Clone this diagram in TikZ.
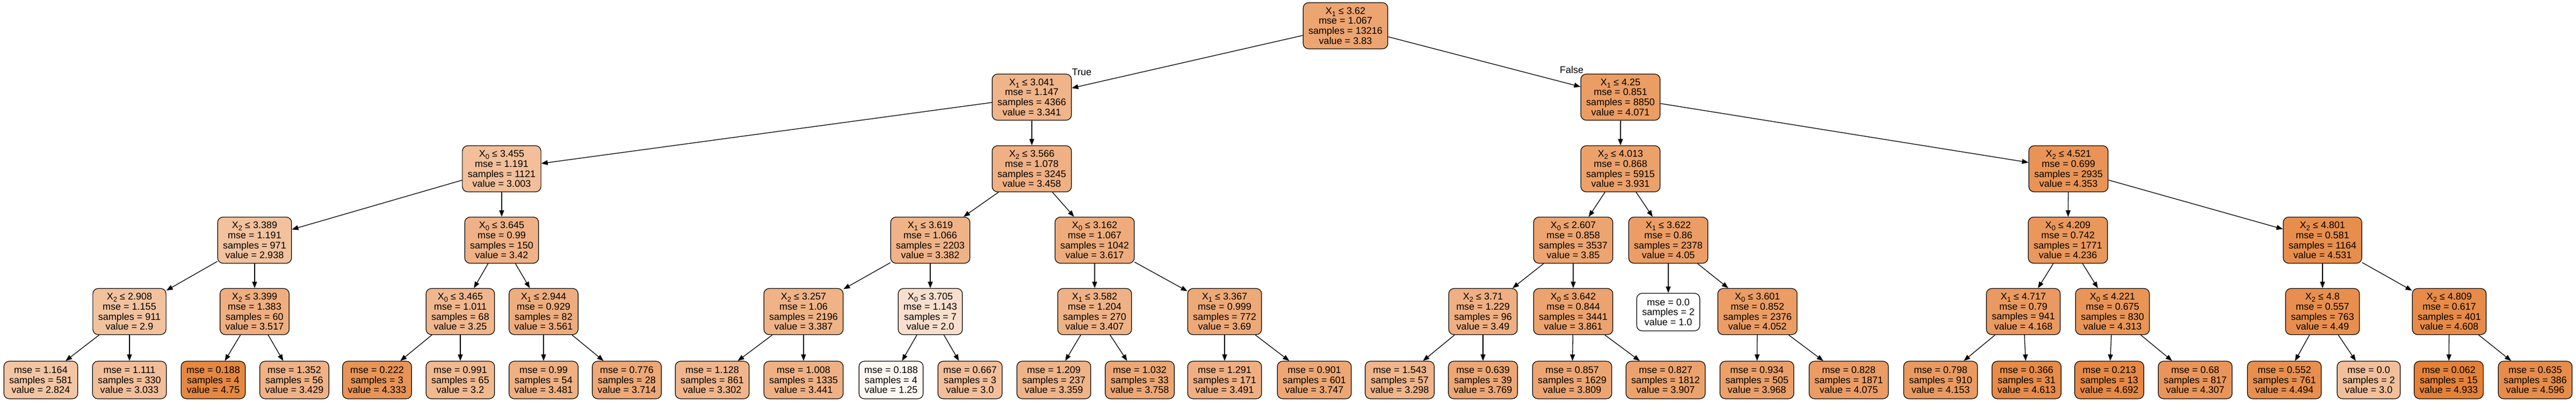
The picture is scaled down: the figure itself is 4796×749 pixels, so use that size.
\documentclass[tikz,border=0pt]{standalone}
\usepackage{fontspec}
\setmainfont{Liberation Sans}
\usetikzlibrary{arrows.meta}
\definecolor{dto}{RGB}{229,129,57}
\newcommand{\sbx}[1]{\raisebox{-4.3pt}{\fontsize{13}{13}\selectfont #1}}
\tikzset{
  dt/.style={draw=black, rounded corners=10pt, line width=1.2pt, align=center,
    inner xsep=10pt, inner ysep=2pt, minimum height=86pt,
    font=\fontsize{18}{18.7}\selectfont},
  dleaf/.style={dt, minimum height=70pt},
  edge/.style={-{Triangle[length=12pt,width=9pt]}, line width=1.3pt},
  elab/.style={font=\fontsize{18}{18.7}\selectfont, inner sep=0pt}
}
\newcommand{\dsplit}[8]{% name, x, y, pct, feature, thr, mse, samples, (value via \dval)
  \node[dt, fill=dto!#4!white] (#1) at (#2,#3) {X\sbx{#5} ≤ #6\\mse = #7\\samples = #8\\value = \dval};}
\begin{document}
\begin{tikzpicture}[x=1pt,y=-1pt]
\useasboundingbox (0,0) rectangle (4796,749);
% level 0
\def\dval{3.83}\dsplit{root}{2505}{48}{71.96}{1}{3.62}{1.067}{13216}
% level 1
\def\dval{3.341}\dsplit{n1}{1921}{181}{59.52}{1}{3.041}{1.147}{4366}
\def\dval{4.071}\dsplit{n2}{3017}{181}{78.08}{1}{4.25}{0.851}{8850}
% level 2
\def\dval{3.003}\dsplit{n11}{934}{314.5}{50.93}{0}{3.455}{1.191}{1121}
\def\dval{3.458}\dsplit{n12}{1921}{314.5}{62.50}{2}{3.566}{1.078}{3245}
\def\dval{3.931}\dsplit{n21}{3017}{314.5}{74.52}{2}{4.013}{0.868}{5915}
\def\dval{4.353}\dsplit{n22}{3851}{314.5}{85.25}{2}{4.521}{0.699}{2935}
% level 3
\def\dval{2.938}\dsplit{n111}{474}{447.5}{49.28}{2}{3.389}{1.191}{971}
\def\dval{3.42}\dsplit{n112}{934}{447.5}{61.53}{0}{3.645}{0.99}{150}
\def\dval{3.382}\dsplit{n121}{1732}{447.5}{60.56}{1}{3.619}{1.066}{2203}
\def\dval{3.617}\dsplit{n122}{2038}{447.5}{66.54}{0}{3.162}{1.067}{1042}
\def\dval{3.85}\dsplit{n211}{2929}{447.5}{72.46}{0}{2.607}{0.858}{3537}
\def\dval{4.05}\dsplit{n212}{3106}{447.5}{77.55}{1}{3.622}{0.86}{2378}
\def\dval{4.236}\dsplit{n221}{3850}{447.5}{82.28}{0}{4.209}{0.742}{1771}
\def\dval{4.531}\dsplit{n222}{4324}{447.5}{89.78}{2}{4.801}{0.581}{1164}
% level 4
\def\dval{2.9}\dsplit{a1}{241}{580.5}{48.31}{2}{2.908}{1.155}{911}
\def\dval{3.517}\dsplit{a2}{474}{580.5}{64.00}{2}{3.399}{1.383}{60}
\def\dval{3.25}\dsplit{a3}{857}{580.5}{57.21}{0}{3.465}{1.011}{68}
\def\dval{3.561}\dsplit{a4}{1012}{580.5}{65.12}{1}{2.944}{0.929}{82}
\def\dval{3.387}\dsplit{b1}{1496}{580.5}{60.69}{2}{3.257}{1.06}{2196}
\def\dval{2.0}\dsplit{b2}{1732}{580.5}{25.43}{0}{3.705}{1.143}{7}
\def\dval{3.407}\dsplit{b3}{2038}{580.5}{61.20}{1}{3.582}{1.204}{270}
\def\dval{3.69}\dsplit{b4}{2280}{580.5}{68.40}{1}{3.367}{0.999}{772}
\def\dval{3.49}\dsplit{c1}{2761}{580.5}{63.31}{2}{3.71}{1.229}{96}
\def\dval{3.861}\dsplit{c2}{2929}{580.5}{72.74}{0}{3.642}{0.844}{3441}
\node[dleaf, fill=white] (c3) at (3106,581.5) {mse = 0.0\\samples = 2\\value = 1.0};
\def\dval{4.052}\dsplit{c4}{3272}{580.5}{77.60}{0}{3.601}{0.852}{2376}
\def\dval{4.168}\dsplit{d1}{3767}{580.5}{80.55}{1}{4.717}{0.79}{941}
\def\dval{4.313}\dsplit{d2}{3933}{580.5}{84.24}{0}{4.221}{0.675}{830}
\def\dval{4.49}\dsplit{d3}{4324}{580.5}{88.74}{2}{4.8}{0.557}{763}
\def\dval{4.608}\dsplit{d4}{4560}{580.5}{91.74}{2}{4.809}{0.617}{401}
% leaves
\node[dleaf, fill=dto!46.38!white] (l1) at (76,708) {mse = 1.164\\samples = 581\\value = 2.824};
\node[dleaf, fill=dto!51.69!white] (l2) at (241,708) {mse = 1.111\\samples = 330\\value = 3.033};
\node[dleaf, fill=dto!95.35!white] (l3) at (397,708) {mse = 0.188\\samples = 4\\value = 4.75};
\node[dleaf, fill=dto!61.76!white] (l4) at (548,708) {mse = 1.352\\samples = 56\\value = 3.429};
\node[dleaf, fill=dto!84.74!white] (l5) at (702,708) {mse = 0.222\\samples = 3\\value = 4.333};
\node[dleaf, fill=dto!55.94!white] (l6) at (857,708) {mse = 0.991\\samples = 65\\value = 3.2};
\node[dleaf, fill=dto!63.08!white] (l7) at (1012,708) {mse = 0.99\\samples = 54\\value = 3.481};
\node[dleaf, fill=dto!69.01!white] (l8) at (1167,708) {mse = 0.776\\samples = 28\\value = 3.714};
\node[dleaf, fill=dto!58.53!white] (l9) at (1326,708) {mse = 1.128\\samples = 861\\value = 3.302};
\node[dleaf, fill=dto!62.06!white] (l10) at (1496,708) {mse = 1.008\\samples = 1335\\value = 3.441};
\node[dleaf, fill=dto!6.36!white] (l11) at (1659,708) {mse = 0.188\\samples = 4\\value = 1.25};
\node[dleaf, fill=dto!50.85!white] (l12) at (1806,708) {mse = 0.667\\samples = 3\\value = 3.0};
\node[dleaf, fill=dto!59.98!white] (l13) at (1962,708) {mse = 1.209\\samples = 237\\value = 3.359};
\node[dleaf, fill=dto!70.12!white] (l14) at (2122,708) {mse = 1.032\\samples = 33\\value = 3.758};
\node[dleaf, fill=dto!63.34!white] (l15) at (2280,708) {mse = 1.291\\samples = 171\\value = 3.491};
\node[dleaf, fill=dto!69.84!white] (l16) at (2447,708) {mse = 0.901\\samples = 601\\value = 3.747};
\node[dleaf, fill=dto!58.43!white] (l17) at (2606,708) {mse = 1.543\\samples = 57\\value = 3.298};
\node[dleaf, fill=dto!70.40!white] (l18) at (2761,708) {mse = 0.639\\samples = 39\\value = 3.769};
\node[dleaf, fill=dto!71.42!white] (l19) at (2927,708) {mse = 0.857\\samples = 1629\\value = 3.809};
\node[dleaf, fill=dto!73.91!white] (l20) at (3101,708) {mse = 0.827\\samples = 1812\\value = 3.907};
\node[dleaf, fill=dto!75.46!white] (l21) at (3271,708) {mse = 0.934\\samples = 505\\value = 3.968};
\node[dleaf, fill=dto!78.18!white] (l22) at (3442,708) {mse = 0.828\\samples = 1871\\value = 4.075};
\node[dleaf, fill=dto!80.17!white] (l23) at (3613,708) {mse = 0.798\\samples = 910\\value = 4.153};
\node[dleaf, fill=dto!91.86!white] (l24) at (3773,708) {mse = 0.366\\samples = 31\\value = 4.613};
\node[dleaf, fill=dto!93.87!white] (l25) at (3927,708) {mse = 0.213\\samples = 13\\value = 4.692};
\node[dleaf, fill=dto!84.08!white] (l26) at (4087,708) {mse = 0.68\\samples = 817\\value = 4.307};
\node[dleaf, fill=dto!88.84!white] (l27) at (4253,708) {mse = 0.552\\samples = 761\\value = 4.494};
\node[dleaf, fill=dto!50.85!white] (l28) at (4410,708) {mse = 0.0\\samples = 2\\value = 3.0};
\node[dleaf, fill=dto!100!white] (l29) at (4559,708) {mse = 0.062\\samples = 15\\value = 4.933};
\node[dleaf, fill=dto!91.43!white] (l30) at (4720,708) {mse = 0.635\\samples = 386\\value = 4.596};
% edge labels
\node[elab] (tlab) at (2014,134) {True};
\node[elab] (flab) at (2926,130) {False};
% edges
\foreach \p/\c in {root/n1, root/n2, n1/n11, n1/n12, n2/n21, n2/n22,
  n11/n111, n11/n112, n12/n121, n12/n122, n21/n211, n21/n212, n22/n221, n22/n222,
  n111/a1, n111/a2, n112/a3, n112/a4, n121/b1, n121/b2, n122/b3, n122/b4,
  n211/c1, n211/c2, n212/c3, n212/c4, n221/d1, n221/d2, n222/d3, n222/d4,
  a1/l1, a1/l2, a2/l3, a2/l4, a3/l5, a3/l6, a4/l7, a4/l8,
  b1/l9, b1/l10, b2/l11, b2/l12, b3/l13, b3/l14, b4/l15, b4/l16,
  c1/l17, c1/l18, c2/l19, c2/l20, c4/l21, c4/l22,
  d1/l23, d1/l24, d2/l25, d2/l26, d3/l27, d3/l28, d4/l29, d4/l30}
  {\draw[edge] (\p) -- (\c);}
\end{tikzpicture}
\end{document}
